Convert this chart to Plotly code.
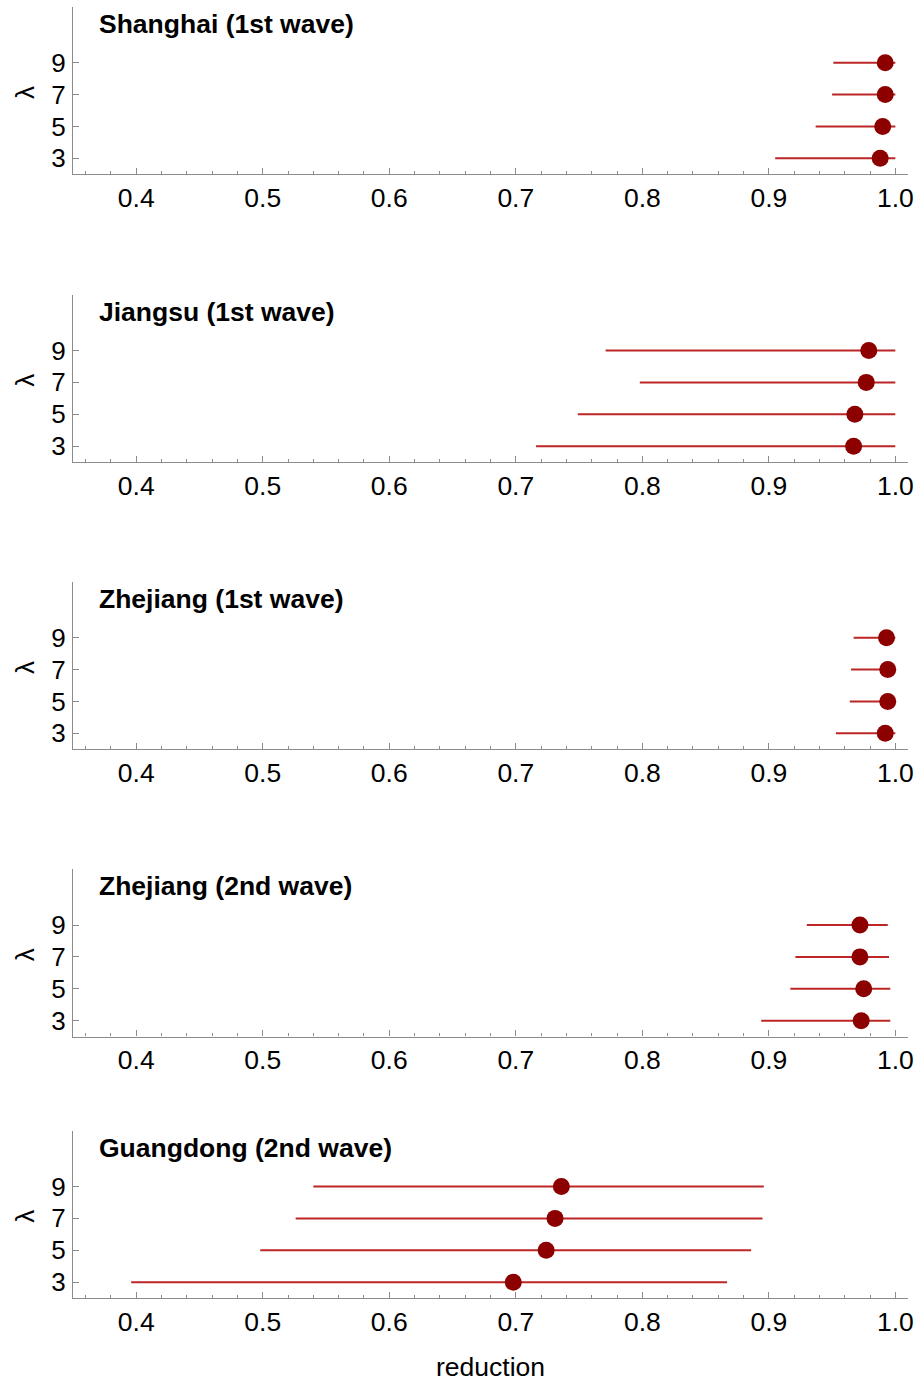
import plotly.graph_objects as go

# ---------------- data ----------------
panel_titles = ["Shanghai (1st wave)", "Jiangsu (1st wave)", "Zhejiang (1st wave)",
                "Zhejiang (2nd wave)", "Guangdong (2nd wave)"]
lambdas = [3, 5, 7, 9]

# point estimates and interval ends (for lambda 3,5,7,9)
shanghai_est = [0.988, 0.990, 0.992, 0.992]
shanghai_lo = [0.905, 0.937, 0.950, 0.951]
shanghai_hi = [1.0, 1.0, 1.0, 1.0]

jiangsu_est = [0.967, 0.968, 0.977, 0.979]
jiangsu_lo = [0.716, 0.749, 0.798, 0.771]
jiangsu_hi = [1.0, 1.0, 1.0, 1.0]

zhejiang1_est = [0.992, 0.994, 0.994, 0.993]
zhejiang1_lo = [0.953, 0.964, 0.965, 0.967]
zhejiang1_hi = [1.0, 1.0, 1.0, 1.0]

zhejiang2_est = [0.973, 0.975, 0.972, 0.972]
zhejiang2_lo = [0.894, 0.917, 0.921, 0.930]
zhejiang2_hi = [0.996, 0.996, 0.995, 0.994]

guangdong_est = [0.698, 0.724, 0.731, 0.736]
guangdong_lo = [0.396, 0.498, 0.526, 0.540]
guangdong_hi = [0.867, 0.886, 0.895, 0.896]

x_tickvals = [0.4, 0.5, 0.6, 0.7, 0.8, 0.9, 1.0]
x_ticktext = ["0.4", "0.5", "0.6", "0.7", "0.8", "0.9", "1.0"]

panels = [
    (shanghai_est, shanghai_lo, shanghai_hi),
    (jiangsu_est, jiangsu_lo, jiangsu_hi),
    (zhejiang1_est, zhejiang1_lo, zhejiang1_hi),
    (zhejiang2_est, zhejiang2_lo, zhejiang2_hi),
    (guangdong_est, guangdong_lo, guangdong_hi),
]

# ---------------- layout geometry ----------------
W, H = 918, 1384
ML, MR = 73, 10
YMIN, YMAX = 2.0, 12.5
PX_PER_UNIT = 15.94
tick9_px = [62.7, 350.5, 637.7, 925.0, 1186.5]

FONT = "Liberation Sans, Arial, sans-serif"
LINE_COLOR = "rgb(188,38,38)"
MARK_COLOR = "rgb(140,0,0)"
AXIS_COLOR = "rgb(140,140,140)"

fig = go.Figure()
layout = dict(
    width=W, height=H,
    margin=dict(l=ML, r=MR, t=0, b=0),
    paper_bgcolor="white", plot_bgcolor="white",
    showlegend=False,
    font=dict(family=FONT, size=26, color="black"),
    template="none",
)
annotations = []

for i, (est, lo, hi) in enumerate(panels):
    n = i + 1
    xa = "x" if n == 1 else f"x{n}"
    ya = "y" if n == 1 else f"y{n}"
    plus = [h - e for h, e in zip(hi, est)]
    minus = [e - l for e, l in zip(est, lo)]
    fig.add_trace(go.Scatter(
        x=est, y=lambdas, xaxis=xa, yaxis=ya, mode="markers",
        marker=dict(color=MARK_COLOR, size=17),
        error_x=dict(type="data", symmetric=False, array=plus, arrayminus=minus,
                     color=LINE_COLOR, thickness=2, width=0),
        hoverinfo="x+y",
    ))
    top_px = tick9_px[i] - (YMAX - 9) * PX_PER_UNIT
    bot_px = tick9_px[i] + (9 - YMIN) * PX_PER_UNIT
    dom = [1 - bot_px / H, 1 - top_px / H]
    xkey = "xaxis" if n == 1 else f"xaxis{n}"
    ykey = "yaxis" if n == 1 else f"yaxis{n}"
    layout[xkey] = dict(
        domain=[0, 1], anchor=ya, range=[0.35, 1.01],
        tickvals=x_tickvals, ticktext=x_ticktext,
        ticks="inside", ticklen=6, tickcolor=AXIS_COLOR, tickwidth=1,
        minor=dict(dtick=0.02, tick0=0.4, ticks="inside", ticklen=3,
                   tickcolor=AXIS_COLOR, tickwidth=1, showgrid=False),
        showline=True, linecolor=AXIS_COLOR, linewidth=1.2,
        showgrid=False, zeroline=False, automargin=False,
        tickfont=dict(size=26.5, family=FONT, color="black"),
        ticklabelstandoff=0,
    )
    layout[ykey] = dict(
        domain=dom, anchor=xa, range=[YMIN, YMAX],
        tickvals=lambdas, ticktext=[str(v) for v in lambdas],
        ticks="inside", ticklen=6, tickcolor=AXIS_COLOR, tickwidth=1,
        showline=True, linecolor=AXIS_COLOR, linewidth=1.2,
        showgrid=False, zeroline=False, automargin=False,
        tickfont=dict(size=26, family=FONT, color="black"),
        ticklabelstandoff=1,
    )
    # panel title
    annotations.append(dict(
        text="<b>" + panel_titles[i] + "</b>", xref="paper", yref="paper",
        x=(97 - ML) / (W - ML - MR), y=1 - (tick9_px[i] - 39) / H,
        xanchor="left", yanchor="middle", showarrow=False,
        font=dict(size=26.5, family=FONT, color="black"),
    ))
    # lambda label
    annotations.append(dict(
        text="λ", xref="paper", yref=ya, x=(25 - ML) / (W - ML - MR), y=7.1,
        xanchor="center", yanchor="middle", showarrow=False, textangle=-90,
        font=dict(size=26, family=FONT, color="black"),
    ))

annotations.append(dict(
    text="reduction", xref="paper", yref="paper", x=0.5, y=1 - 1367 / H,
    xanchor="center", yanchor="middle", showarrow=False,
    font=dict(size=26.5, family=FONT, color="black"),
))
layout["annotations"] = annotations
fig.update_layout(**layout)
fig.write_html(
    "out.html",
    config={"displayModeBar": False},
    post_script="document.body.style.margin='0';document.body.style.overflow='hidden';",
)
